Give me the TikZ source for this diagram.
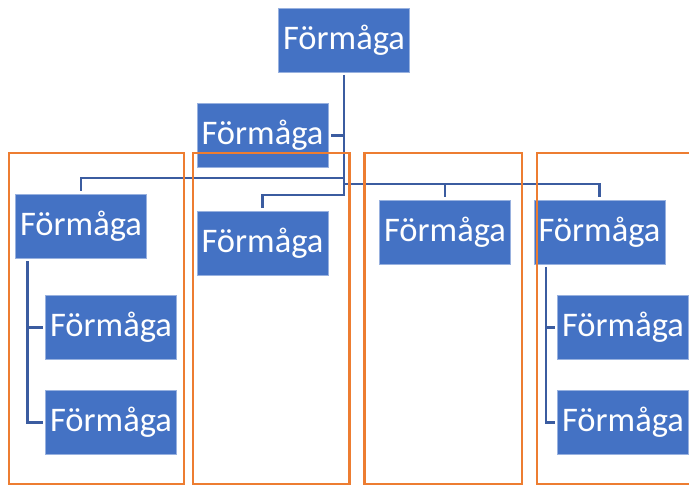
\documentclass[tikz,border=0pt]{standalone}
\usepackage{fontspec}
\setmainfont{Carlito}
\usetikzlibrary{positioning}
\definecolor{boxblue}{HTML}{4472C4}
\definecolor{linkblue}{HTML}{3B5CA0}
\definecolor{grouporange}{HTML}{ED7D31}

\begin{document}
\begin{tikzpicture}[x=1pt,y=-1pt,every node/.style={box},
  box/.style={rectangle,minimum width=131pt,minimum height=64pt,inner sep=0pt,outer sep=3pt,
    fill=boxblue,draw=boxblue!55!white,line width=0.6pt,text=white,font=\fontsize{34.5}{40}\selectfont},
  link/.style={draw=linkblue,line width=2.6pt},
  group/.style={draw=grouporange,line width=2.4pt}]

        \clip (0,0) rectangle (689,486);

        \node (top) at (344,40) {Förmåga};
        \node (asst) at (262.5,135.5) {Förmåga};

        \node (c1) at (81,226.5) {Förmåga};
        \node (c2) at (262.5,243) {Förmåga};
        \node (c3) at (445,232) {Förmåga};
        \node (c4) at (599.5,232) {Förmåga};

        \node (c1a) at (111,327.5) {Förmåga};
        \node (c1b) [below=25pt of c1a] {Förmåga};
        \node (c4a) at (623,327.5) {Förmåga};
        \node (c4b) [below=25pt of c4a] {Förmåga};

        % heights of the three buses
        \coordinate (busA) at (0,178);
        \coordinate (busB) at (0,184);
        \coordinate (busC) at (0,195);

        \draw[link] (top.south) -- (top.south |- busC) -| (c2.north);
        \draw[link] (asst.east) -- (asst.east -| top.south);
        \draw[link] (top.south |- busA) -| (c1.north);
        \draw[link] (top.south |- busB) -| (c4.north);
        \draw[link] (c3.north |- busB) -- (c3.north);

        \draw[link] ([xshift=15pt]c1.south west) |- (c1a.west);
        \draw[link] ([xshift=15pt]c1.south west) |- (c1b.west);
        \draw[link] ([xshift=15pt]c4.south west) |- (c4a.west);
        \draw[link] ([xshift=15pt]c4.south west) |- (c4b.west);

        \draw[group] (9,153) rectangle (184,484);
        \draw[group] (193,153) rectangle (349.5,484);
        \draw[group] (364.5,153) rectangle (522,484);
        \draw[group] (537,153) rectangle (700,484);
      \end{tikzpicture}
\end{document}
